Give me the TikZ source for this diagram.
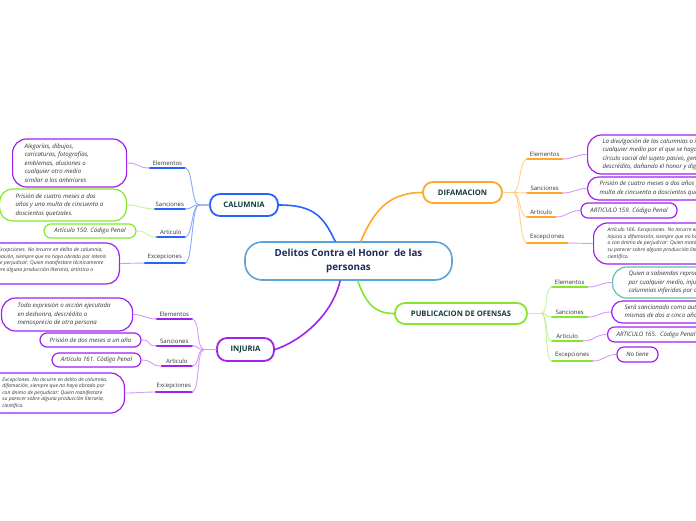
\documentclass[tikz,border=0pt]{standalone}
\usepackage{fontspec}
\setmainfont{Open Sans}
\setlength{\parindent}{0pt}
\definecolor{azzurro}{HTML}{5BA4DB}
\definecolor{blu}{HTML}{2962FF}
\definecolor{bluchiaro}{HTML}{8AA8FF}
\definecolor{arancio}{HTML}{FFA726}
\definecolor{aranciochiaro}{HTML}{FFD08A}
\definecolor{viola}{HTML}{A020F0}
\definecolor{violachiaro}{HTML}{D49AF5}
\definecolor{verdelime}{HTML}{84E82A}
\definecolor{limechiaro}{HTML}{C2F39A}
\definecolor{acqua}{HTML}{5CC6A8}
\definecolor{verdescuro}{HTML}{12393F}
\definecolor{blunotte}{HTML}{1C2B5A}
\definecolor{grigio}{HTML}{333333}
\begin{document}
\begin{tikzpicture}[x=1pt, y=-1pt, line cap=round, line join=round,
    centro/.style={draw=azzurro, line width=1.6pt, fill=white, rounded corners=17pt, minimum width=207pt, minimum height=38pt, inner sep=0pt, align=center, font=\fontsize{9.8}{13.5}\selectfont\bfseries, text=blunotte},
    ramo/.style={draw=#1, line width=1.8pt, fill=white, rounded corners=10pt, inner sep=0pt, font=\fontsize{7.6}{8}\selectfont\bfseries, text=verdescuro},
    sotto/.style={inner xsep=0pt, inner ysep=2.5pt, font=\fontsize{6}{7}\selectfont, text=grigio, append after command={(\tikzlastnode.south west) edge[draw=#1, line width=2.2pt] (\tikzlastnode.south east)}},
    foglia/.style={draw=#1, line width=1.2pt, fill=white, rounded corners=7pt, inner xsep=0pt, inner ysep=0pt, font=\fontsize{6.1}{8.5}\selectfont\itshape, text=grigio, align=flush left},
    minuta/.style={font=\fontsize{5.1}{6.6}\selectfont\itshape},
    filo/.style={draw=#1, line width=0.9pt}]
    \useasboundingbox (0,0) rectangle (696,520);
    \clip (0,0) rectangle (696,520);
    % Centro
    \node[centro] (centro) at (348.5,261) {Delitos Contra el Honor \ de las\\personas};
    % Rami principali
    \node[ramo=blu, minimum width=68pt, minimum height=22pt] (calumnia) at (244,205) {CALUMNIA};
    \node[ramo=arancio, minimum width=79pt, minimum height=21pt] (difamacion) at (462.5,192.5) {DIFAMACION};
    \node[ramo=viola, minimum width=57pt, minimum height=23pt] (injuria) at (245.5,349.5) {INJURIA};
    \node[ramo=verdelime, minimum width=132pt, minimum height=21pt] (publicacion) at (461,313.5) {PUBLICACION DE OFENSAS};
    % Collegamenti dal centro
    \draw[blu, line width=1.6pt] (centro.124) .. controls +(-12,-25) and +(35,0) .. (calumnia.east);
    \draw[arancio, line width=1.6pt] (centro.58) .. controls +(12,-28) and +(-35,0) .. (difamacion.west);
    \draw[viola, line width=1.6pt] (centro.247) .. controls +(-8,35) and +(25,-8) .. (injuria.east);
    \draw[verdelime, line width=1.6pt] (centro.295) .. controls +(8,22) and +(-20,0) .. (publicacion.west);

    % Calumnia
    \node[sotto=blu, anchor=south east, minimum width=35pt] (cElem) at (185,168) {Elementos};
    \node[sotto=blu, anchor=south east, minimum width=30pt] (cSanc) at (185,209) {Sanciones};
    \node[sotto=blu, anchor=south east, minimum width=28pt] (cArt) at (185,237) {Articulo};
    \node[sotto=blu, anchor=south east, minimum width=40pt] (cExc) at (185,263) {Excepciones};
    \draw[filo=bluchiaro] (calumnia.west) -- ++(-10,0) .. controls +(-8,0) and +(8,0) .. (cElem.south east);
    \draw[filo=bluchiaro] (calumnia.west) -- ++(-10,0) .. controls +(-8,0) and +(8,0) .. (cSanc.south east);
    \draw[filo=bluchiaro] (calumnia.west) -- ++(-10,0) .. controls +(-8,0) and +(8,0) .. (cArt.south east);
    \draw[filo=bluchiaro] (calumnia.west) -- ++(-10,0) .. controls +(-8,0) and +(8,0) .. (cExc.south east);
    \node[foglia=viola, anchor=west, rounded corners=14pt, inner xsep=12pt, text width=90pt, minimum height=48pt] (cElemF) at (12,163) {Alegorías, dibujos,\\caricaturas, fotografías,\\emblemas, alusiones o\\cualquier otro medio\\similar a los anteriores};
    \node[foglia=verdelime, anchor=west, rounded corners=13pt, inner xsep=16pt, text width=95pt, minimum height=32pt] (cSancF) at (-1,205) {Prisión de cuatro meses a dos\\años y una multa de cincuenta a\\doscientos quetzales.};
    \node[foglia=verdelime, align=center, minimum width=92pt, minimum height=14pt] (cArtF) at (90,231) {Artículo 150. Código Penal};
    \node[foglia=viola, minuta, anchor=east, inner xsep=13pt, minimum height=41pt, rounded corners=13pt] (cExcF) at (120,263.5) {Artículo 162. Excepciones. No incurre en delito de calumnia,\\injuria o difamación, siempre que no haya obrado por intenís\\o con ánimo de perjudicar: Quien manifestare técnicamente\\su parecer sobre alguna producción literaria, artística o\\científico.};
    \draw[filo=violachiaro] (cElem.south west) .. controls +(-12,0) and +(12,0) .. (cElemF.east);
    \draw[filo=limechiaro] (cSanc.south west) .. controls +(-12,0) and +(12,0) .. (cSancF.east);
    \draw[filo=limechiaro] (cArt.south west) .. controls +(-12,0) and +(12,0) .. (cArtF.east);
    \draw[filo=violachiaro] (cExc.south west) .. controls +(-12,0) and +(12,0) .. (cExcF.east);

    % Injuria
    \node[sotto=viola, anchor=south east, minimum width=35pt] (iElem) at (192,319) {Elementos};
    \node[sotto=viola, anchor=south east, minimum width=35pt] (iSanc) at (192,346) {Sanciones};
    \node[sotto=viola, anchor=south east, minimum width=30pt] (iArt) at (192,366) {Articulo};
    \node[sotto=viola, anchor=south east, minimum width=36pt] (iExc) at (192,392) {Excepciones};
    \draw[filo=violachiaro] (injuria.west) -- ++(-12,0) .. controls +(-8,0) and +(8,0) .. (iElem.south east);
    \draw[filo=violachiaro] (injuria.west) -- ++(-12,0) .. controls +(-8,0) and +(8,0) .. (iSanc.south east);
    \draw[filo=violachiaro] (injuria.west) -- ++(-12,0) .. controls +(-8,0) and +(8,0) .. (iArt.south east);
    \draw[filo=violachiaro] (injuria.west) -- ++(-12,0) .. controls +(-8,0) and +(8,0) .. (iExc.south east);
    \node[foglia=viola, anchor=west, rounded corners=14pt, inner xsep=16pt, text width=99pt, minimum height=33pt] (iElemF) at (1,314.5) {Toda expresión o acción ejecutada\\en deshonra, descrédito o\\menosprecio de otra persona};
    \node[foglia=viola, align=center, minimum width=101pt, minimum height=14pt] (iSancF) at (90.5,340) {Prisión de dos meses a un año};
    \node[foglia=viola, align=center, minimum width=89pt, minimum height=14pt] (iArtF) at (96.5,360) {Artículo 161. Código Penal};
    \node[foglia=viola, minuta, anchor=east, inner xsep=17pt, minimum height=40pt, rounded corners=14pt] (iExcF) at (125,393) {Excepciones. No incurre en delito de calumnia,\\difamación, siempre que no haya obrado por\\con ánimo de perjudicar: Quien manifestare\\su parecer sobre alguna producción literaria,\\científico.};
    \draw[filo=violachiaro] (iElem.south west) .. controls +(-12,0) and +(12,0) .. (iElemF.east);
    \draw[filo=violachiaro] (iSanc.south west) .. controls +(-12,0) and +(12,0) .. (iSancF.east);
    \draw[filo=violachiaro] (iArt.south west) .. controls +(-12,0) and +(12,0) .. (iArtF.east);
    \draw[filo=violachiaro] (iExc.south west) .. controls +(-12,0) and +(12,0) .. (iExcF.east);

    % Difamacion
    \node[sotto=arancio, anchor=south west, minimum width=35pt] (dElem) at (527,159) {Elementos};
    \node[sotto=arancio, anchor=south west, minimum width=35pt] (dSanc) at (527,193) {Sanciones};
    \node[sotto=arancio, anchor=south west, minimum width=28pt] (dArt) at (527,217) {Articulo};
    \node[sotto=arancio, anchor=south west, minimum width=40pt] (dExc) at (527,243) {Excepciones};
    \draw[filo=aranciochiaro] (difamacion.east) -- ++(10,0) .. controls +(8,0) and +(-8,0) .. (dElem.south west);
    \draw[filo=aranciochiaro] (difamacion.east) -- ++(10,0) .. controls +(8,0) and +(-8,0) .. (dSanc.south west);
    \draw[filo=aranciochiaro] (difamacion.east) -- ++(10,0) .. controls +(8,0) and +(-8,0) .. (dArt.south west);
    \draw[filo=aranciochiaro] (difamacion.east) -- ++(10,0) .. controls +(8,0) and +(-8,0) .. (dExc.south west);
    \node[foglia=viola, anchor=west, inner xsep=15pt, minimum height=39pt, rounded corners=14pt] (dElemF) at (587,154.5) {La divulgación de las calumnias o injurias por\\cualquier medio por el que se haga saber al\\círculo social del sujeto pasivo, generando\\descrédito, dañando el honor y dignidad};
    \node[foglia=viola, anchor=west, inner xsep=12pt, minimum height=23pt, rounded corners=11pt] (dSancF) at (587,188.5) {Prisión de cuatro meses a dos años y\\multa de cincuenta a doscientos quetzales.};
    \node[foglia=viola, align=center, minimum width=96pt, minimum height=15pt] (dArtF) at (629,210.5) {ARTICULO 159. Código Penal};
    \node[foglia=viola, minuta, anchor=west, inner xsep=14pt, minimum height=41pt, rounded corners=14pt] (dExcF) at (593,243.5) {Artículo 166. Excepciones. No incurre en delito de calumnia,\\injuria o difamación, siempre que no haya obrado por\\o con ánimo de perjudicar: Quien manifestare técnicamente\\su parecer sobre alguna producción literaria, artística o\\científico.};
    \draw[filo=violachiaro] (dElem.south east) .. controls +(12,0) and +(-12,0) .. (dElemF.west);
    \draw[filo=violachiaro] (dSanc.south east) .. controls +(12,0) and +(-12,0) .. (dSancF.west);
    \draw[filo=violachiaro] (dArt.south east) .. controls +(12,0) and +(-12,0) .. (dArtF.west);
    \draw[filo=violachiaro] (dExc.south east) .. controls +(12,0) and +(-12,0) .. (dExcF.west);

    % Publicacion de ofensas
    \node[sotto=verdelime, anchor=south west, minimum width=35pt] (pElem) at (552,287) {Elementos};
    \node[sotto=verdelime, anchor=south west, minimum width=35pt] (pSanc) at (552,317) {Sanciones};
    \node[sotto=verdelime, anchor=south west, minimum width=30pt] (pArt) at (552,341) {Articulo};
    \node[sotto=verdelime, anchor=south west, minimum width=40pt] (pExc) at (552,361) {Excepciones};
    \draw[filo=limechiaro] (publicacion.east) -- ++(13,0) .. controls +(8,0) and +(-8,0) .. (pElem.south west);
    \draw[filo=limechiaro] (publicacion.east) -- ++(13,0) .. controls +(8,0) and +(-8,0) .. (pSanc.south west);
    \draw[filo=limechiaro] (publicacion.east) -- ++(13,0) .. controls +(8,0) and +(-8,0) .. (pArt.south west);
    \draw[filo=limechiaro] (publicacion.east) -- ++(13,0) .. controls +(8,0) and +(-8,0) .. (pExc.south west);
    \node[foglia=acqua, anchor=west, inner xsep=16pt, minimum height=31pt, rounded corners=14pt] (pElemF) at (612,282.5) {Quien a sabiendas reprodujere\\por cualquier medio, injurias o\\calumnias inferidas por otro};
    \node[foglia=viola, anchor=west, inner xsep=13pt, minimum height=22pt, rounded corners=11pt] (pSancF) at (611,312) {Será sancionado como autor de las\\mismas de dos a cinco años de prisión};
    \node[foglia=viola, anchor=west, inner xsep=9pt, minimum height=15pt] (pArtF) at (607,334.5) {ARTICULO 165. \ Código Penal};
    \node[foglia=viola, align=center, minimum width=41pt, minimum height=15pt] (pExcF) at (637.5,354.5) {No tiene};
    \draw[filo=violachiaro] (pElem.south east) .. controls +(12,0) and +(-12,0) .. (pElemF.west);
    \draw[filo=violachiaro] (pSanc.south east) .. controls +(12,0) and +(-12,0) .. (pSancF.west);
    \draw[filo=violachiaro] (pArt.south east) .. controls +(12,0) and +(-12,0) .. (pArtF.west);
    \draw[filo=violachiaro] (pExc.south east) .. controls +(12,0) and +(-12,0) .. (pExcF.west);
\end{tikzpicture}
\end{document}
